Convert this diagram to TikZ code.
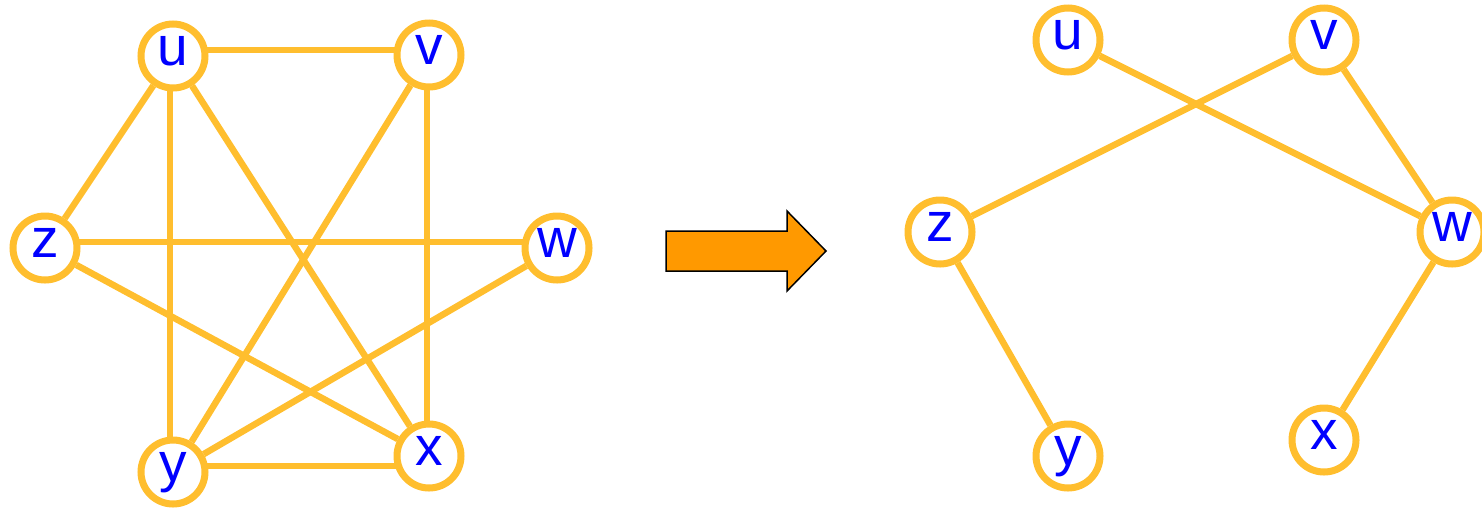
\documentclass[tikz,border=0pt]{standalone}
\usepackage{fontspec}
\setmainfont{Liberation Sans}
\usetikzlibrary{backgrounds}
\definecolor{ring}{RGB}{255,190,46}
\definecolor{lettercol}{RGB}{0,0,255}
\definecolor{arrowfill}{RGB}{255,153,0}
\begin{document}
\begin{tikzpicture}[x=1pt,y=1pt,
  vert/.style={circle,draw=ring,line width=7pt,fill=white,minimum size=64pt,inner sep=0pt,
    text=lettercol,font=\fontsize{55}{60}\selectfont,text height=30pt,text depth=12pt},
  edge/.style={draw=ring,line width=6.5pt}]
\useasboundingbox (0,0) rectangle (1482,-507);

% left graph: vertices
\node[vert] (u1) at (173,-56) {u};
\node[vert] (v1) at (429,-55) {v};
\node[vert] (z1) at (45,-248) {z};
\node[vert] (w1) at (557,-248) {w};
\node[vert] (y1) at (173,-472) {y};
\node[vert] (x1) at (429,-456) {x};

% left graph: edges (kept behind the vertices)
\begin{scope}[on background layer]
\path[edge] ([yshift=6pt]u1.center) -- ([yshift=5pt]v1.center);
\path[edge] (u1) -- (z1);
\path[edge] ([xshift=-3pt]u1.center) -- ([xshift=-3pt]y1.center);
\path[edge] (u1) -- (x1);
\path[edge] (v1) -- (y1);
\path[edge] ([xshift=-2pt]v1.center) -- ([xshift=-2pt]x1.center);
\path[edge] ([yshift=6pt]z1.center) -- ([yshift=6pt]w1.center);
\path[edge] (z1) -- (x1);
\path[edge] (w1) -- (y1);
\path[edge] ([yshift=6pt]y1.center) -- ([yshift=-10pt]x1.center);
\end{scope}

% block arrow between the two graphs
\path[draw=black,line width=1.5pt,fill=arrowfill]
  (666,-231) -- (787,-231) -- (787,-211) -- (826,-251) -- (787,-291) -- (787,-271) -- (666,-271) -- cycle;

% right graph: vertices
\node[vert] (u2) at (1068,-40) {u};
\node[vert] (v2) at (1324,-40) {v};
\node[vert] (z2) at (940,-232) {z};
\node[vert] (w2) at (1452,-232) {w};
\node[vert] (y2) at (1068,-456) {y};
\node[vert] (x2) at (1324,-440) {x};

% right graph: edges
\begin{scope}[on background layer]
\path[edge] (u2) -- (w2);
\path[edge] (v2) -- (z2);
\path[edge] (v2) -- (w2);
\path[edge] (z2) -- (y2);
\path[edge] (w2) -- (x2);
\end{scope}
\end{tikzpicture}
\end{document}
